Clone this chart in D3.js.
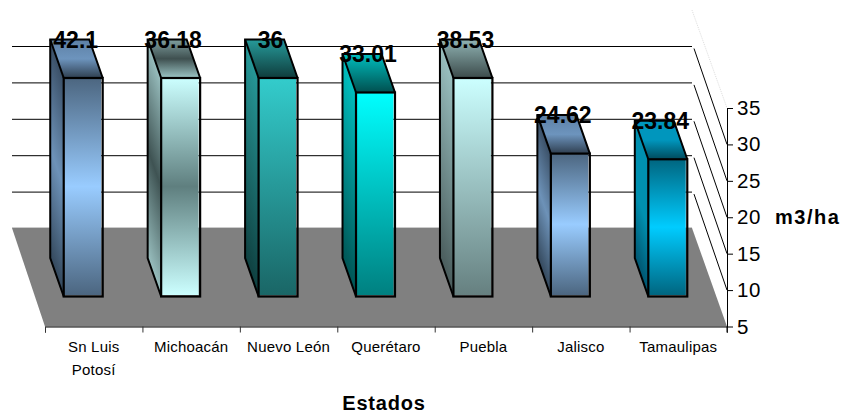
<!DOCTYPE html>
<html><head><meta charset="utf-8">
<script src="https://cdn.jsdelivr.net/npm/d3@7"></script>
<style>html,body{margin:0;background:#fff}svg{display:block}text{font-family:"Liberation Sans",Arial,sans-serif;fill:#000}</style>
</head><body><svg id="c" width="845" height="415"></svg>
<script>
const states = ["Sn Luis Potosí","Michoacán","Nuevo León","Querétaro","Puebla","Jalisco","Tamaulipas"];
const values = [42.1,36.18,36,33.01,38.53,24.62,23.84];
const yTicks = [5,10,15,20,25,30,35];
const frontStops = [
 ["#4c6680","#99ccff","#4c6680"],["#ccffff","#5f7f7f","#ccffff"],["#33cccc","#1a6666"],
 ["#00ffff","#008080"],["#ccffff","#668080"],["#4c6680","#99ccff","#4c6680"],["#006680","#00ccff","#006680"]];
const sideStops = [
 ["#3a4f66","#6d92b8","#34485c"],["#99bfbf","#3f5353","#99bfbf"],["#269999","#0f4040"],
 ["#00bfbf","#005555"],["#99bfbf","#4a5c5c"],["#3a4f66","#6d92b8","#34485c"],["#0090b0","#0090b0","#005570"]];
const topStops = [
 ["#5d80a5","#6d94bd","#2f3f50"],["#7f9f9f","#3f5050","#9cc6c6"],["#269a9a","#0f3c3c"],
 ["#00bfbf","#004f4f"],["#90b3b3","#3c4b4b"],["#5d80a5","#6d94bd","#2f3f50"],["#0096bd","#0096bd","#004a5c"]];

const svg = d3.select("#c"), defs = svg.append("defs");
const L = {floorBackL:12, floorBackR:692, floorFrontL:45, floorFrontR:727, floorBack:228, floorFront:326.5, axisTop:108};
const depth = {dx:-13.5, dy:-38.5};

const yAxisScale = d3.scaleLinear().domain([5,35]).range([L.floorFront,L.axisTop]);
const yWall = d3.scaleLinear().domain([5,35]).range([228.5,10.1]);
const yBar = d3.scaleLinear().domain([5,35]).range([296.5,78]).clamp(true);
const xBase = d3.scaleBand().domain(states).range([L.floorFrontL,L.floorFrontR]);
const xFront = d3.scaleBand().domain(states).range([L.floorFrontL-10.5,L.floorFrontR-10.5]).paddingInner(.6).paddingOuter(.3);
const xTicks = d3.scaleLinear().domain([0,states.length]).range([L.floorFrontL,L.floorFrontR]);

function grad(id,stops){
  const g = defs.append("linearGradient").attr("id",id).attr("x1",0).attr("x2",0).attr("y1",0).attr("y2",1);
  stops.forEach((c,i)=>g.append("stop").attr("offset",i/(stops.length-1)).attr("stop-color",c));
}
states.forEach((s,i)=>{grad("f"+i,frontStops[i]);grad("s"+i,sideStops[i]);grad("t"+i,topStops[i]);});

// wall lines
const gridVals = yTicks.slice(1,6);
svg.append("g").selectAll("line").data(gridVals).join("line")
  .attr("x1",L.floorBackL).attr("x2",L.floorBackR).attr("y1",d=>yWall(d)).attr("y2",d=>yWall(d))
  .attr("stroke","#000").attr("stroke-width",1);
svg.append("g").selectAll("line").data(gridVals).join("line")
  .attr("x1",L.floorBackR+2).attr("x2",L.floorFrontR).attr("y1",d=>yWall(d)+2).attr("y2",d=>yAxisScale(d))
  .attr("stroke","#000").attr("stroke-width",1);
svg.append("line").attr("x1",L.floorBackR).attr("y1",yWall(35)).attr("x2",L.floorFrontR).attr("y2",yAxisScale(35))
  .attr("stroke","#ddd").attr("stroke-width",1).attr("stroke-dasharray","1 1");

// floor
svg.append("path").attr("d",d3.line()([[L.floorBackL,L.floorBack],[L.floorBackR,L.floorBack],[L.floorFrontR,L.floorFront],[L.floorFrontL,L.floorFront]])+"Z")
  .attr("fill","#808080");
svg.append("line").attr("x1",L.floorBackL).attr("x2",L.floorBackR).attr("y1",L.floorBack-.5).attr("y2",L.floorBack-.5).attr("stroke","#ccc");

// axes
const gx = svg.append("g").attr("transform",`translate(0,${L.floorFront})`)
  .call(d3.axisBottom(xTicks).ticks(states.length).tickFormat("").tickSize(6).tickSizeOuter(6));
gx.selectAll("path,line").attr("stroke","#000");
gx.selectAll("line").attr("stroke","#333");
const gy = svg.append("g").attr("transform",`translate(${L.floorFrontR},0)`)
  .call(d3.axisRight(yAxisScale).tickValues(yTicks).tickSize(6).tickSizeOuter(0));
gy.select(".domain").attr("stroke","#000");
gy.append("line").attr("x1",0).attr("x2",0).attr("y1",L.floorFront).attr("y2",L.floorFront+6).attr("stroke","#000");
gy.selectAll("text").attr("x",10).style("font-size","20.5px").style("font-family",'"Liberation Sans"').style("letter-spacing",".6px").attr("fill","#000");

// category labels
const catG = svg.append("g").attr("transform","translate(0,352)")
  .call(d3.axisBottom(xBase).tickSize(0).tickPadding(0));
catG.select(".domain").remove();
catG.selectAll("text").attr("fill","#000").style("font-size","15px").style("font-family",'"Liberation Sans"')
  .style("letter-spacing",".2px").attr("y",0).attr("dy",0)
  .each(function(d){
    const t = d3.select(this), words = d==="Sn Luis Potosí" ? ["Sn Luis","Potosí"] : [d];
    t.text(null);
    words.forEach((w,i)=>t.append("tspan").attr("x",0).attr("dy",i?22.5:0).text(w));
  });

// bars
const bars = svg.append("g").selectAll("g").data(states).join("g");
bars.each(function(s,i){
  const g = d3.select(this), x0 = xFront(s), w = xFront.bandwidth(), yT = yBar(values[i]), yB = yBar.range()[0];
  const {dx,dy} = depth;
  g.append("rect").attr("transform",`matrix(${dx},${dy},0,1,${x0},0)`)
    .attr("x",0).attr("width",1).attr("y",yT).attr("height",yB-yT).attr("fill",`url(#s${i})`);
  g.append("path").attr("d",d3.line()([[x0,yT],[x0+dx,yT+dy],[x0+w+dx,yT+dy],[x0+w,yT]])+"Z").attr("fill",`url(#t${i})`);
  g.append("rect").attr("x",x0).attr("y",yT).attr("width",w-1.5).attr("height",yB-yT-1.5).attr("fill",`url(#f${i})`);
  g.append("path").attr("d",d3.line()([[x0+w,yT],[x0+w+dx,yT+dy],[x0+dx,yT+dy],[x0+dx,yB+dy],[x0,yB]]))
    .attr("fill","none").attr("stroke","#000").attr("stroke-width",2).attr("stroke-linejoin","miter");
  g.append("line").attr("x1",x0+dx).attr("y1",yT+dy).attr("x2",x0).attr("y2",yT).attr("stroke","#000").attr("stroke-width",2);
  g.append("rect").attr("x",x0).attr("y",yT).attr("width",w).attr("height",yB-yT)
    .attr("fill","none").attr("stroke","#000").attr("stroke-width",2.2);
});

// data labels
svg.append("g").selectAll("text").data(states).join("text")
  .attr("x",s=>xFront(s)+xFront.bandwidth()/2-7.5)
  .attr("y",(s,i)=>yBar(values[i])+depth.dy+8)
  .attr("text-anchor","middle").style("font-size","23px").style("font-weight","bold")
  .text((s,i)=>values[i]);

// titles
svg.append("text").attr("x",384).attr("y",410).attr("text-anchor","middle")
  .style("font-size","20px").style("font-weight","bold").style("letter-spacing",".8px").text("Estados");
svg.append("text").attr("x",775).attr("y",224)
  .style("font-size","20px").style("font-weight","bold").style("letter-spacing","1.5px").text("m3/ha");
</script></body></html>
